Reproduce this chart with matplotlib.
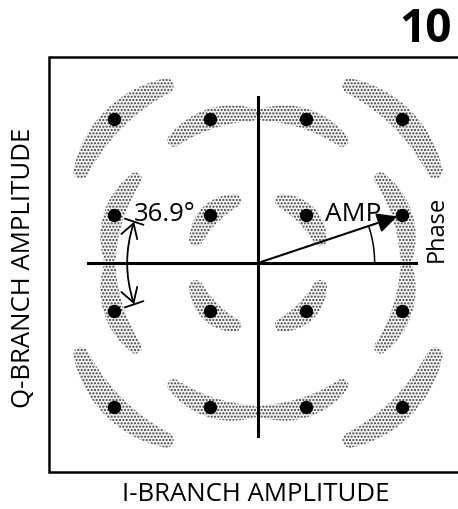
import numpy as np
import matplotlib
matplotlib.use("Agg")
import matplotlib.pyplot as plt
from matplotlib.patches import Polygon, FancyArrowPatch

plt.rcParams['font.family'] = ['Open Sans', 'DejaVu Sans']
plt.rcParams['hatch.linewidth'] = 1.0

# 16-QAM constellation points (I, Q)
levels = [-3, -1, 1, 3]
I_pts = [i for q in levels for i in levels]
Q_pts = [q for q in levels for i in levels]

# phase-noise spread per ring: half-angle of centre line (deg), half-thickness (units)
ring_radius = [np.sqrt(2), np.sqrt(10), np.sqrt(18)]
ring_half_angle = [24, 16, 17.5]
ring_half_width = [0.22, 0.21, 0.25]

amp_point = (3, 1)
phase_label = "36.9°"

fig = plt.figure(figsize=(4.58, 5.10), dpi=100)
ax = fig.add_axes([0, 0, 1, 1])
ax.set_xlim(-5.375, 4.1667)
ax.set_ylim(-5.125, 5.5)
ax.set_aspect("equal")
ax.axis("off")


def banana(i, q, half_deg, w):
    # thick curved stroke along the phase circle, tapered, round ends
    r0 = np.hypot(i, q)
    t0 = np.arctan2(q, i)
    s = np.linspace(-1, 1, 121)
    th = t0 + np.radians(half_deg) * s
    rc = r0 * (1 - 0.02 * s ** 2)
    h = w * (1 - 0.35 * s ** 2)
    outer = np.c_[(rc + h) * np.cos(th), (rc + h) * np.sin(th)]
    inner = np.c_[(rc - h) * np.cos(th), (rc - h) * np.sin(th)]
    he = h[-1]
    ce = np.array([rc[-1] * np.cos(th[-1]), rc[-1] * np.sin(th[-1])])
    cs = np.array([rc[0] * np.cos(th[0]), rc[0] * np.sin(th[0])])
    a = np.linspace(0, np.pi, 30)
    cap_e = np.c_[ce[0] + he * np.cos(th[-1] + a), ce[1] + he * np.sin(th[-1] + a)]
    cap_s = np.c_[cs[0] + he * np.cos(th[0] + np.pi + a), cs[1] + he * np.sin(th[0] + np.pi + a)]
    return np.vstack([outer, cap_e, inner[::-1], cap_s])


for i, q in zip(I_pts, Q_pts):
    r = np.hypot(i, q)
    k = int(np.argmin([abs(r - rr) for rr in ring_radius]))
    verts = banana(i, q, ring_half_angle[k], ring_half_width[k])
    ax.add_patch(Polygon(verts, closed=True, facecolor="#f4f4f4",
                         edgecolor="#3c3c3c", linewidth=0, hatch=".....", zorder=1))

ax.plot(I_pts, Q_pts, "o", color="black", ms=8.6, zorder=4)

# I/Q axes
ax.plot([-3.54, 3.29], [0, 0], color="black", lw=2.2, zorder=3)
ax.plot([0, 0], [-3.6, 3.46], color="black", lw=2.2, zorder=3)

# frame (right side runs off the picture)
ax.plot([5, -4.35, -4.35, 5], [4.29, 4.29, -4.35, -4.35], color="black", lw=1.8,
        solid_joinstyle="miter", zorder=3)

# AMP vector and phase angle
ax.add_patch(FancyArrowPatch((0, 0), (amp_point[0] - 0.1, amp_point[1] - 0.03),
                             arrowstyle="-|>,head_length=0.6,head_width=0.3",
                             mutation_scale=20, color="black", lw=1.5, shrinkA=0, shrinkB=0, zorder=5))
ang = np.arctan2(amp_point[1], amp_point[0])
t = np.linspace(0, ang, 40)
ax.plot(2.43 * np.cos(t), 2.43 * np.sin(t), color="black", lw=1.1, zorder=3)
ax.text(1.39, 1.04, "AMP", fontsize=19, ha="left", va="center", zorder=6)

# 36.9 deg spacing between (-3,1) and (-3,-1)
ra = 2.72
a1 = np.arctan2(1, -3)
a2 = np.arctan2(-1, -3)
p1 = (ra * np.cos(a1), ra * np.sin(a1))
p2 = (ra * np.cos(a2), ra * np.sin(a2))
ax.add_patch(FancyArrowPatch(p1, p2, connectionstyle="arc3,rad=0.163",
                             arrowstyle="<->,head_length=0.5,head_width=0.3",
                             mutation_scale=20, color="black", lw=1.3, shrinkA=0, shrinkB=0, zorder=5))
for a in (a1, a2):
    ax.plot([(ra - 0.2) * np.cos(a), (ra + 0.2) * np.cos(a)],
            [(ra - 0.2) * np.sin(a), (ra + 0.2) * np.sin(a)], color="black", lw=1.3, zorder=5)
ax.text(-2.58, 1.04, phase_label, fontsize=18.5, ha="left", va="center", zorder=6)

ax.text(3.72, 0.73, "Phase", fontsize=17, rotation=90, ha="center", va="center")
ax.text(-4.88, -0.08, "Q-BRANCH AMPLITUDE", fontsize=18.5, rotation=90, ha="center", va="center")
ax.text(-0.04, -4.8, "I-BRANCH AMPLITUDE", fontsize=18.5, ha="center", va="center")
ax.text(3.48, 4.88, "10", fontsize=33, fontweight="bold", ha="center", va="center")

fig.savefig("out.png", dpi=100)
